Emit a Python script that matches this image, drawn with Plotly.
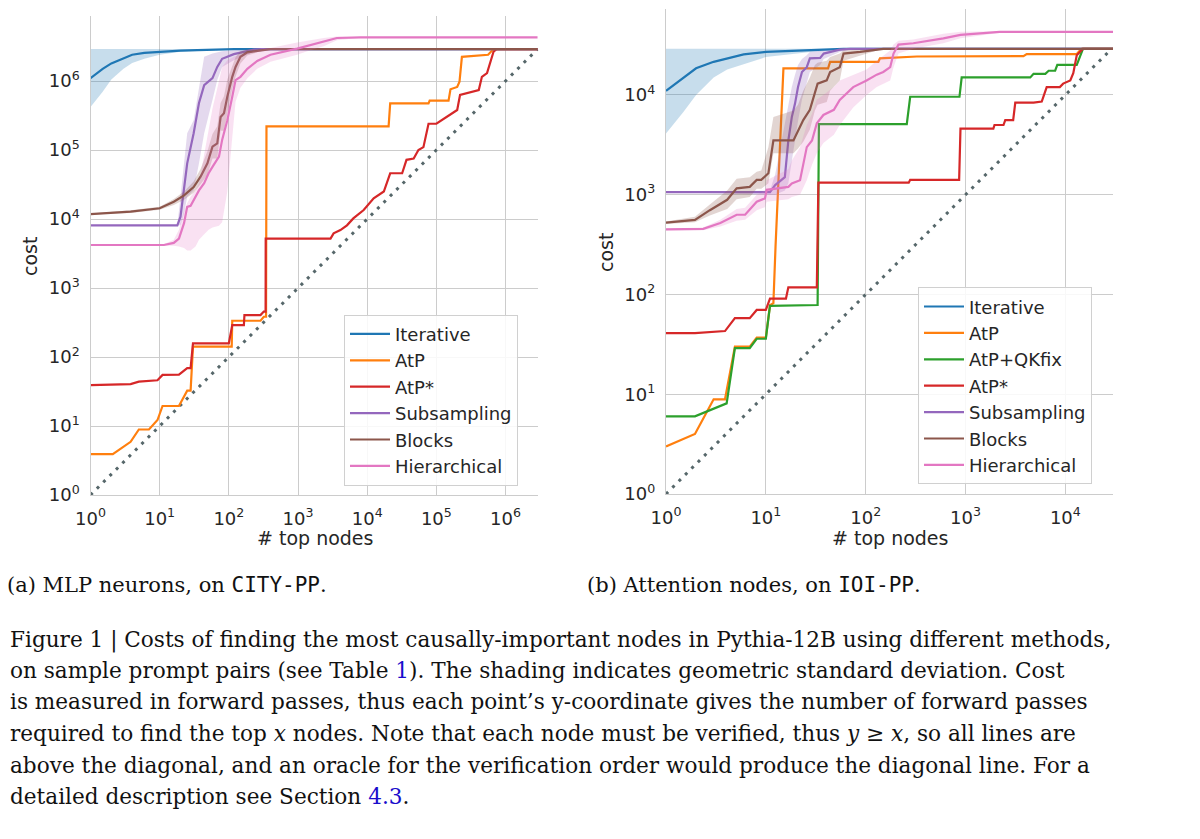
import plotly.graph_objects as go

# ---------------- Left panel: MLP neurons, on CITY-PP ----------------
L_N = 2.9e6
L_iter_x = [1, 1.5, 2, 3, 4, 6, 10, 20, 35, 60, 120, 2.9e6]
L_iter_y = [1.1e6, 1.5e6, 1.8e6, 2.15e6, 2.4e6, 2.55e6, 2.65e6, 2.75e6, 2.8e6, 2.86e6, 2.9e6, 2.9e6]
L_iter_lo = [4.2e5, 7e5, 1.05e6, 1.5e6, 1.82e6, 2.1e6, 2.4e6, 2.65e6, 2.72e6, 2.8e6, 2.88e6, 2.9e6]
L_iter_hi = [2.9e6] * 12

L_atp_x = [1, 2.1, 3.8, 5, 7, 9.3, 11, 19, 25, 28, 30.3, 110, 112, 287, 320, 345, 350,
           2.04e4, 2.15e4, 7.7e4, 8e4, 1.5e5, 1.6e5, 2e5, 2.16e5, 2.34e5, 5.6e5, 6.7e5, 2.9e6]
L_atp_y = [3.9, 3.9, 5.9, 8.9, 8.9, 12.2, 19.5, 19.5, 32.5, 32.5, 141, 141, 335, 335, 383, 383, 2.2e5,
           2.2e5, 4.75e5, 4.75e5, 5.2e5, 5.2e5, 7.6e5, 8.2e5, 9.8e5, 2.24e6, 2.4e6, 2.9e6, 2.9e6]

L_atps_x = [1, 3.8, 5, 9.3, 11, 19, 25, 28, 30.3, 100, 112, 165, 168, 287, 320, 340, 341,
            2950, 3270, 4100, 5100, 6300, 8900, 1.24e4, 1.74e4, 2.15e4, 3.2e4, 3.7e4, 4.7e4,
            5.5e4, 6.5e4, 7.7e4, 1e5, 1.4e5, 2e5, 2.2e5, 3.4e5, 4.1e5, 4.55e5, 5.4e5, 6.7e5, 7.4e5, 2.9e6]
L_atps_y = [39, 40.5, 44, 46, 55, 55.5, 69, 69, 158, 158, 290, 290, 405, 405, 455, 455, 5.2e3,
            5.2e3, 6.2e3, 6.9e3, 8.1e3, 1.02e4, 1.35e4, 2.0e4, 2.5e4, 4.6e4, 4.6e4, 7.2e4, 7.5e4,
            1e5, 1.1e5, 2.4e5, 2.4e5, 3e5, 3.8e5, 6.3e5, 7e5, 7.4e5, 1.15e6, 1.3e6, 2.65e6, 2.9e6, 2.9e6]

L_sub_x = [1, 18, 20, 22.5, 25, 31, 37, 44, 58, 68, 80, 118, 230, 300, 2.9e6]
L_sub_y = [8.1e3, 8.1e3, 1.08e4, 2.6e4, 6.4e4, 1.75e5, 4.8e5, 8.7e5, 1.1e6, 1.6e6, 2.1e6, 2.45e6, 2.85e6, 2.9e6, 2.9e6]
L_sub_hi = [8.1e3, 8.1e3, 2.1e4, 6.4e4, 1.75e5, 2.7e5, 8.3e5, 2.24e6, 2.5e6, 2.6e6, 2.7e6, 2.8e6, 2.9e6, 2.9e6, 2.9e6]
L_sub_lo = [8.1e3, 8.1e3, 8.1e3, 1.2e4, 2.1e4, 2.6e4, 6.4e4, 1.75e5, 5.3e5, 1.03e6, 1.6e6, 2.0e6, 2.65e6, 2.9e6, 2.9e6]

L_blk_x = [1, 3.8, 10, 16, 22.5, 31, 39, 49, 58, 68, 76, 85, 95, 112, 125, 147, 185, 290, 400, 2.9e6]
L_blk_y = [1.18e4, 1.28e4, 1.43e4, 1.78e4, 2.2e4, 2.9e4, 4.1e4, 6.4e4, 1.12e5, 1.25e5, 3e5, 3.4e5, 5.9e5,
           1.15e6, 1.6e6, 2.24e6, 2.6e6, 2.8e6, 2.9e6, 2.9e6]
L_blk_hi = [1.2e4, 1.34e4, 1.5e4, 1.95e4, 2.5e4, 3.5e4, 5.3e4, 9.6e4, 1.7e5, 2.2e5, 4.8e5, 6e5, 1.05e6,
            1.7e6, 2.2e6, 2.7e6, 2.85e6, 2.9e6, 2.9e6, 2.9e6]
L_blk_lo = [1.16e4, 1.22e4, 1.36e4, 1.6e4, 1.9e4, 2.4e4, 3.2e4, 4.3e4, 7.5e4, 7.5e4, 1.9e5, 1.9e5, 3.3e5,
            7.7e5, 1.15e6, 1.8e6, 2.35e6, 2.7e6, 2.9e6, 2.9e6]

L_hier_x = [1, 11.5, 16, 19, 22.5, 25, 28, 33, 37, 44, 51, 58, 72, 80, 95, 112, 125, 147, 185, 257,
            400, 970, 1500, 2350, 3650, 8000, 2.9e6]
L_hier_y = [4.2e3, 4.2e3, 4.5e3, 5.2e3, 8.7e3, 1.5e4, 1.55e4, 2.1e4, 2.6e4, 3.3e4, 4.6e4, 5.7e4, 8e4,
            1.4e5, 2.7e5, 5.9e5, 1.03e6, 1.15e6, 1.5e6, 1.95e6, 2.4e6, 2.95e6, 3.3e6, 3.7e6, 4.2e6, 4.3e6, 4.3e6]
L_hier_hi = [4.3e3, 4.3e3, 5e3, 7e3, 1.3e4, 1.7e4, 2.1e4, 2.6e4, 3.3e4, 9e4, 1.9e5, 4e5, 1.0e6,
             1.6e6, 2.0e6, 2.2e6, 2.3e6, 2.4e6, 2.6e6, 2.8e6, 3.0e6, 3.6e6, 3.9e6, 4.2e6, 4.4e6, 4.35e6, 4.3e6]
L_hier_lo = [4.1e3, 4.1e3, 4.1e3, 4e3, 3.8e3, 3.5e3, 3.5e3, 4e3, 5e3, 6e3, 7e3, 7.5e3, 8e3,
             9e3, 2.5e4, 1.5e5, 5e5, 8e5, 1.1e6, 1.5e6, 1.9e6, 2.4e6, 2.8e6, 3.2e6, 3.9e6, 4.25e6, 4.3e6]

# ---------------- Right panel: Attention nodes, on IOI-PP ----------------
R_N = 2.9e4
R_iter_x = [1, 1.5, 2, 3, 4.1, 6, 10, 28, 60, 3e4]
R_iter_y = [1.1e4, 1.5e4, 1.85e4, 2.15e4, 2.33e4, 2.55e4, 2.7e4, 2.8e4, 2.9e4, 2.9e4]
R_iter_lo = [4.1e3, 6.8e3, 1e4, 1.5e4, 1.8e4, 2.05e4, 2.4e4, 2.7e4, 2.85e4, 2.9e4]
R_iter_hi = [2.9e4] * 10

R_atp_x = [1, 1.95, 3.0, 3.9, 4.9, 6.9, 8.1, 10, 11, 11.9, 12.5, 15, 42, 44, 134, 139, 325, 3800, 4100,
           1.3e4, 1.45e4, 3e4]
R_atp_y = [3.0, 4.0, 8.9, 8.9, 30, 30, 37, 37, 78, 82, 300, 1.85e4, 1.85e4, 2.15e4, 2.15e4, 2.33e4, 2.43e4,
           2.45e4, 2.57e4, 2.57e4, 2.9e4, 2.9e4]

R_qk_x = [1, 1.95, 4.05, 4.9, 6.9, 8.1, 10, 11, 33, 34, 258, 279, 870, 915, 4450, 4800, 6300, 6800,
          7900, 8300, 1.3e4, 1.5e4, 3e4]
R_qk_y = [6.0, 6.0, 8.1, 29, 29, 36, 36, 77, 78.5, 5.1e3, 5.1e3, 9.6e3, 9.6e3, 1.5e4, 1.5e4, 1.63e4,
          1.63e4, 1.75e4, 1.75e4, 2e4, 2e4, 2.9e4, 2.9e4]

R_atps_x = [1, 1.95, 3.9, 4.9, 6.9, 8.1, 10, 11, 15.9, 16.8, 32.4, 33.6, 270, 279, 863, 890, 1900, 1950,
            2400, 2500, 3000, 3150, 4800, 5800, 6500, 8800, 9500, 1.12e4, 1.2e4, 1.3e4, 1.5e4, 3e4]
R_atps_y = [41, 41, 43, 58, 58, 70, 70, 91, 91, 118, 118, 1.32e3, 1.32e3, 1.41e3, 1.41e3, 4.6e3, 4.6e3,
            5e3, 5e3, 5.6e3, 5.6e3, 8.4e3, 8.4e3, 8.6e3, 1.2e4, 1.2e4, 1.3e4, 1.4e4, 1.65e4, 2.5e4, 2.9e4, 2.9e4]

R_sub_x = [1, 11, 12.4, 15.5, 16.8, 18.2, 19.6, 21, 23, 25.7, 27.6, 35, 38, 55, 70, 3e4]
R_sub_y = [1.06e3, 1.06e3, 1.25e3, 1.5e3, 3.5e3, 6e3, 8.2e3, 1.2e4, 1.7e4, 1.9e4, 2.33e4, 2.35e4, 2.6e4,
           2.85e4, 2.9e4, 2.9e4]
R_sub_hi = [1.06e3, 1.1e3, 1.6e3, 5e3, 8e3, 1.2e4, 1.6e4, 2e4, 2.3e4, 2.5e4, 2.7e4, 2.75e4, 2.8e4,
            2.9e4, 2.9e4, 2.9e4]
R_sub_lo = [1.06e3, 1.0e3, 1.0e3, 1.1e3, 1.3e3, 2.2e3, 3.5e3, 5.5e3, 9e3, 1.3e4, 1.7e4, 2e4, 2.3e4,
            2.7e4, 2.85e4, 2.9e4]

R_blk_x = [1, 1.95, 2.75, 4.1, 5.1, 6.9, 8.1, 9, 10.6, 11.9, 18.9, 21, 23.7, 27.6, 31, 33, 40.7, 44,
           55, 60, 88, 129, 150, 3e4]
R_blk_y = [525, 560, 700, 890, 1160, 1.2e3, 1.41e3, 1.41e3, 1.64e3, 3.5e3, 3.5e3, 4.3e3, 5.6e3, 7.1e3,
           1.05e4, 1.3e4, 1.4e4, 1.7e4, 1.9e4, 2.6e4, 2.7e4, 2.85e4, 2.9e4, 2.9e4]
R_blk_hi = [540, 600, 800, 1.1e3, 1.45e3, 1.5e3, 1.7e3, 1.75e3, 3e3, 6e3, 7e3, 8e3, 1.1e4, 1.5e4,
            2e4, 2.1e4, 2.2e4, 2.4e4, 2.6e4, 2.8e4, 2.85e4, 2.9e4, 2.9e4, 2.9e4]
R_blk_lo = [510, 530, 620, 720, 900, 950, 1.15e3, 1.15e3, 1.3e3, 2.6e3, 2.6e3, 2.9e3, 3.4e3, 4.5e3,
            7e3, 8e3, 8.5e3, 1.1e4, 1.4e4, 2.2e4, 2.5e4, 2.8e4, 2.9e4, 2.9e4]

R_hier_x = [1, 2.36, 3.5, 5.1, 6.2, 8.1, 9.8, 10.2, 16.8, 18.2, 22, 25.7, 29, 32.4, 37.7, 48, 55, 75,
            102, 129, 150, 176, 190, 213, 300, 410, 600, 890, 1300, 2200, 3e4]
R_hier_y = [450, 455, 520, 630, 630, 850, 920, 1.12e3, 1.2e3, 1.3e3, 1.4e3, 3.0e3, 3.5e3, 5.2e3, 6.3e3,
            7.1e3, 8.9e3, 1.2e4, 1.4e4, 1.6e4, 1.7e4, 1.9e4, 2.6e4, 3.2e4, 3.3e4, 3.45e4, 3.7e4, 4.0e4,
            4.1e4, 4.3e4, 4.3e4]
R_hier_hi = [460, 470, 560, 720, 740, 1e3, 1.1e3, 1.4e3, 1.8e3, 2.2e3, 3e3, 5e3, 6.5e3, 9e3, 1e4,
             1.2e4, 1.4e4, 1.6e4, 1.8e4, 2.2e4, 2.5e4, 2.8e4, 3.2e4, 3.5e4, 3.6e4, 3.8e4, 4.1e4, 4.3e4,
             4.35e4, 4.35e4, 4.3e4]
R_hier_lo = [440, 440, 480, 550, 560, 700, 750, 850, 900, 950, 1.0e3, 1.4e3, 2e3, 2.6e3, 3.3e3, 4e3,
             5e3, 7.5e3, 1e4, 1.2e4, 1.3e4, 1.4e4, 1.9e4, 2.6e4, 2.9e4, 3.1e4, 3.3e4, 3.7e4, 3.9e4, 4.2e4, 4.3e4]

# ---------------- tick labels / text ----------------
L_ticks = [1, 10, 100, 1e3, 1e4, 1e5, 1e6]
L_ticktext = ["10<sup>0</sup>", "10<sup>1</sup>", "10<sup>2</sup>", "10<sup>3</sup>",
              "10<sup>4</sup>", "10<sup>5</sup>", "10<sup>6</sup>"]
R_ticks = [1, 10, 100, 1e3, 1e4]
R_ticktext = ["10<sup>0</sup>", "10<sup>1</sup>", "10<sup>2</sup>", "10<sup>3</sup>", "10<sup>4</sup>"]

COL = {
    "Iterative": "#1f77b4", "AtP": "#ff7f0e", "AtP+QKfix": "#2ca02c", "AtP*": "#d62728",
    "Subsampling": "#9467bd", "Blocks": "#8c564b", "Hierarchical": "#e377c2",
}
FILL = {
    "Iterative": "rgba(31,119,180,0.25)", "Subsampling": "rgba(148,103,189,0.25)",
    "Blocks": "rgba(140,86,75,0.25)", "Hierarchical": "rgba(227,119,194,0.22)",
}

fig = go.Figure()


def band(xa, lo, hi, name, xa_ref, ya_ref):
    fig.add_trace(go.Scatter(
        x=list(xa) + list(xa)[::-1], y=list(hi) + list(lo)[::-1],
        fill="toself", fillcolor=FILL[name], line=dict(width=0), mode="lines",
        hoverinfo="skip", showlegend=False, xaxis=xa_ref, yaxis=ya_ref))


def line(xa, ya, name, xa_ref, ya_ref, legend):
    fig.add_trace(go.Scatter(
        x=xa, y=ya, name=name, mode="lines", line=dict(color=COL[name], width=2.2),
        xaxis=xa_ref, yaxis=ya_ref, legend=legend))


DIAG = "#56676a"
# left panel
fig.add_trace(go.Scatter(x=[1, L_N], y=[1, L_N], mode="lines", showlegend=False,
                         line=dict(color=DIAG, width=3, dash="3px,6px"), xaxis="x", yaxis="y"))
band(L_iter_x, L_iter_lo, L_iter_hi, "Iterative", "x", "y")
line(L_iter_x, L_iter_y, "Iterative", "x", "y", "legend")
line(L_atp_x, L_atp_y, "AtP", "x", "y", "legend")
line(L_atps_x, L_atps_y, "AtP*", "x", "y", "legend")
band(L_sub_x, L_sub_lo, L_sub_hi, "Subsampling", "x", "y")
line(L_sub_x, L_sub_y, "Subsampling", "x", "y", "legend")
band(L_blk_x, L_blk_lo, L_blk_hi, "Blocks", "x", "y")
line(L_blk_x, L_blk_y, "Blocks", "x", "y", "legend")
band(L_hier_x, L_hier_lo, L_hier_hi, "Hierarchical", "x", "y")
line(L_hier_x, L_hier_y, "Hierarchical", "x", "y", "legend")

# right panel
fig.add_trace(go.Scatter(x=[1, R_N], y=[1, R_N], mode="lines", showlegend=False,
                         line=dict(color=DIAG, width=3, dash="3px,6px"), xaxis="x2", yaxis="y2"))
band(R_iter_x, R_iter_lo, R_iter_hi, "Iterative", "x2", "y2")
line(R_iter_x, R_iter_y, "Iterative", "x2", "y2", "legend2")
line(R_atp_x, R_atp_y, "AtP", "x2", "y2", "legend2")
line(R_qk_x, R_qk_y, "AtP+QKfix", "x2", "y2", "legend2")
line(R_atps_x, R_atps_y, "AtP*", "x2", "y2", "legend2")
band(R_sub_x, R_sub_lo, R_sub_hi, "Subsampling", "x2", "y2")
line(R_sub_x, R_sub_y, "Subsampling", "x2", "y2", "legend2")
band(R_blk_x, R_blk_lo, R_blk_hi, "Blocks", "x2", "y2")
line(R_blk_x, R_blk_y, "Blocks", "x2", "y2", "legend2")
band(R_hier_x, R_hier_lo, R_hier_hi, "Hierarchical", "x2", "y2")
line(R_hier_x, R_hier_y, "Hierarchical", "x2", "y2", "legend2")

W, H = 1200, 839
GRID = "#cccccc"
TXT = "#262626"
SANS = "DejaVu Sans"
SERIF = "DejaVu Serif"
MONO = "DejaVu Sans Mono"

ax_common = dict(type="log", showgrid=True, gridcolor=GRID, gridwidth=1.3, showline=True,
                 linecolor=GRID, linewidth=1.3, zeroline=False, ticks="", automargin=False,
                 tickfont=dict(family=SANS, size=18, color=TXT), mirror=False)

fig.update_layout(
    width=W, height=H, autosize=False,
    margin=dict(l=0, r=0, t=0, b=0, pad=0, autoexpand=False),
    paper_bgcolor="white", plot_bgcolor="white",
    font=dict(family=SANS, color=TXT),
    xaxis=dict(ax_common, domain=[90.5 / W, 538.4 / W], range=[0, 6.475], anchor="y",
               tickvals=L_ticks, ticktext=L_ticktext, ticklabelstandoff=7),
    yaxis=dict(ax_common, domain=[1 - 495 / H, 1 - 16 / H], range=[0, 6.942], anchor="x",
               tickvals=L_ticks, ticktext=L_ticktext, ticklabelstandoff=6),
    xaxis2=dict(ax_common, domain=[666 / W, 1113 / W], range=[0, 4.477], anchor="y2",
                tickvals=R_ticks, ticktext=R_ticktext, ticklabelstandoff=7),
    yaxis2=dict(ax_common, domain=[1 - 494 / H, 1 - 9 / H], range=[0, 4.862], anchor="x2",
                tickvals=R_ticks, ticktext=R_ticktext, ticklabelstandoff=6),
    legend=dict(x=344 / W, y=1 - 485.7 / H, xanchor="left", yanchor="bottom",
                bgcolor="rgba(255,255,255,0.85)", bordercolor="#d0d0d0", borderwidth=1,
                font=dict(family=SANS, size=18, color=TXT), itemwidth=40),
    legend2=dict(x=918 / W, y=1 - 484.3 / H, xanchor="left", yanchor="bottom",
                 bgcolor="rgba(255,255,255,0.85)", bordercolor="#d0d0d0", borderwidth=1,
                 font=dict(family=SANS, size=18, color=TXT), itemwidth=40),
)

ann = []


def txt(x, y, s, size, family, anchor="left", angle=0, color=TXT):
    ann.append(dict(x=x / W, y=1 - y / H, xref="paper", yref="paper", text=s, showarrow=False,
                    xanchor=anchor, yanchor="middle", textangle=angle, borderpad=0,
                    font=dict(family=family, size=size, color=color)))


# axis titles
txt(314.5, 538, "# top nodes", 19, SANS, "center")
txt(889.5, 538, "# top nodes", 19, SANS, "center")
txt(30, 257, "cost", 19, SANS, "center", -90)
txt(606, 253, "cost", 19, SANS, "center", -90)

# sub-captions
CAP = "#111111"
mono = lambda s: "<span style='font-family:%s'>%s</span>" % (MONO, s)
blue = lambda s: "<span style='color:#1a0dcc'>%s</span>" % s
txt(6, 585, "(a) MLP neurons, on " + mono("CITY-PP") + ".", 21, SERIF, color=CAP)
txt(586, 585, "(b) Attention nodes, on " + mono("IOI-PP") + ".", 21, SERIF, color=CAP)

caption_lines = [
    "Figure 1 | Costs of finding the most causally-important nodes in Pythia-12B using different methods,",
    "on sample prompt pairs (see Table " + blue("1") + "). The shading indicates geometric standard deviation. Cost",
    "is measured in forward passes, thus each point\u2019s y-coordinate gives the number of forward passes",
    "required to find the top <i>x</i> nodes. Note that each node must be verified, thus <i>y</i> \u2265 <i>x</i>, so all lines are",
    "above the diagonal, and an oracle for the verification order would produce the diagonal line. For a",
    "detailed description see Section " + blue("4.3") + ".",
]
caption_y = [640, 670, 701.7, 733, 765, 796.7]
for s, yy in zip(caption_lines, caption_y):
    txt(9, yy, s, 21.6, SERIF, color=CAP)

fig.update_layout(annotations=ann)

fig.write_html("out.html", config={"displayModeBar": False},
               post_script="document.body.style.margin='0';document.body.style.overflow='hidden';")
